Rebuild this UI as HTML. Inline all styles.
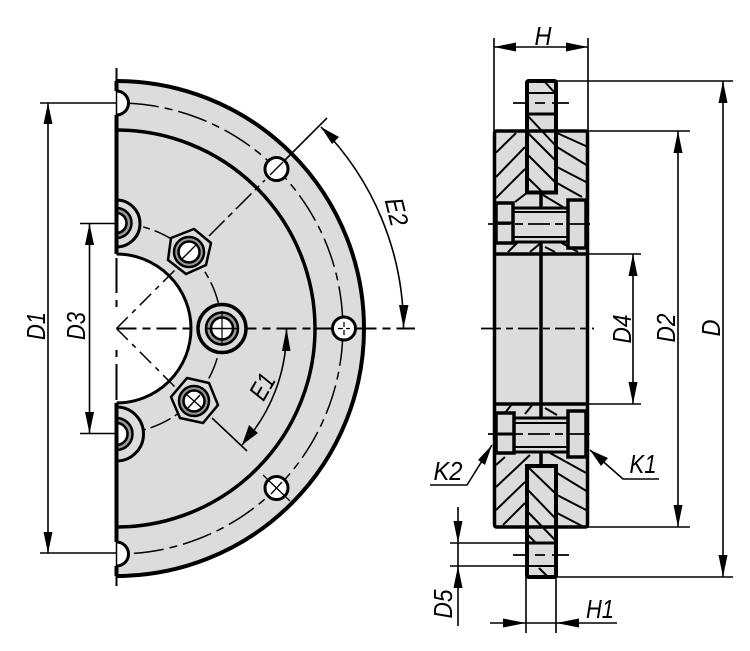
<!DOCTYPE html>
<html><head><meta charset="utf-8">
<style>
html,body{margin:0;padding:0;background:#fff}
svg{display:block}
text{font-family:"Liberation Sans",sans-serif;font-style:italic;font-size:26px;fill:#000}
</style></head><body>
<svg width="750" height="651" viewBox="0 0 750 651" xmlns="http://www.w3.org/2000/svg">

<!-- LEFT VIEW -->
<path d="M116.5 81A247.500 247.500 0 0 1 116.5 576Z" fill="#dcdcdc"/>
<path d="M116.5 81A247.500 247.500 0 0 1 116.5 576" fill="none" stroke="#000" stroke-width="4"/>
<path d="M116.5 130A198.500 198.500 0 0 1 116.5 527" fill="none" stroke="#000" stroke-width="3.500"/>
<path d="M116.5 254A74.500 74.500 0 0 1 116.5 403Z" fill="#fff"/>
<path d="M116.5 254A74.500 74.500 0 0 1 116.5 403" fill="none" stroke="#000" stroke-width="3"/>
<!-- pitch circles -->
<path d="M129 103.300A225.500 225.500 0 0 1 129 553.700" fill="none" stroke="#000" stroke-width="1.500" stroke-dasharray="30 6 8 6"/>
<path d="M116.5 223.500A105 105 0 0 1 116.5 433.500" fill="none" stroke="#000" stroke-width="1.500" stroke-dasharray="22 5 7 5"/>
<!-- notches -->
<path d="M116.5 91A12 12 0 0 1 116.5 115Z" fill="#fff"/>
<path d="M116.5 91A12 12 0 0 1 116.5 115" fill="none" stroke="#000" stroke-width="3"/>
<path d="M116.5 542A12 12 0 0 1 116.5 566Z" fill="#fff"/>
<path d="M116.5 542A12 12 0 0 1 116.5 566" fill="none" stroke="#000" stroke-width="3"/>
<!-- left edge -->
<path d="M116.5 81V91M116.5 115V254M116.5 403V542M116.5 566V576" stroke="#000" stroke-width="4" fill="none"/>
<path d="M116.5 91V115M116.5 542V566" stroke="#000" stroke-width="1.500" fill="none"/>
<!-- centre lines -->
<path d="M116.5 68V81M116.5 258V293M116.5 300V307M116.5 350V357M116.5 364V400M116.5 576V586" stroke="#000" stroke-width="2" fill="none"/>
<path d="M116.5 328.500L190 255M116.5 328.500L190 402" stroke="#000" stroke-width="1.500" stroke-dasharray="16 6 5 6" fill="none"/>
<path d="M116.5 328.500H415" stroke="#000" stroke-width="2" stroke-dasharray="20 6 8 6"/>
<path d="M209 236L265 180" stroke="#000" stroke-width="1.500" stroke-dasharray="22 5 6 5"/>
<path d="M285 160L327 118" stroke="#000" stroke-width="1.600"/>
<path d="M212 418L247 451" stroke="#000" stroke-width="1.600"/>
<!-- top and bottom socket holes -->
<g fill="none" stroke="#000">
<path d="M116.5 200A23 23 0 0 1 116.5 247Z" fill="#dcdcdc" stroke-width="3"/>
<path d="M116.5 208A15 15 0 0 1 116.5 238Z" fill="#999" stroke-width="2.500"/>
<path d="M116.5 213A10 10 0 0 1 116.5 233Z" fill="#fff" stroke-width="2.500"/>
<path d="M116.5 407A27 27 0 0 1 116.5 461Z" fill="#dcdcdc" stroke-width="3"/>
<path d="M116.5 418A16 16 0 0 1 116.5 450Z" fill="#999" stroke-width="2.500"/>
<path d="M116.5 423A11 11 0 0 1 116.5 445Z" fill="#fff" stroke-width="2.500"/>
</g>
<path d="M116.5 199V248M116.5 407V461" stroke="#000" stroke-width="4"/>
<!-- centre bolt -->
<g stroke="#000" fill="none">
<circle cx="222" cy="328.500" r="24" fill="#dcdcdc" stroke-width="3.500"/>
<circle cx="222" cy="328.500" r="16" fill="#999" stroke-width="2.500"/>
<circle cx="222" cy="328.500" r="11" fill="#fff" stroke-width="2.500"/>
<path d="M222 311V346" stroke-width="1.200"/>
<path d="M205 328.500H239" stroke-width="1.600"/>
</g>
<!-- hex bolts -->
<g stroke="#000" fill="none">
<polygon points="194,229 211,243 206,265 186,274 168,260 171,238" fill="#dcdcdc" stroke-width="2.500"/>
<circle cx="189" cy="252" r="15" fill="#999" stroke-width="2.500"/>
<circle cx="189" cy="252" r="10.500" fill="#fff" stroke-width="2.500"/>
<path d="M182 259L196 245" stroke-width="1.400"/>
<polygon points="187,378 209,383 218,405 203,423 180,418 171,397" fill="#dcdcdc" stroke-width="2.500"/>
<circle cx="194" cy="401" r="15" fill="#999" stroke-width="2.500"/>
<circle cx="194" cy="401" r="10.500" fill="#fff" stroke-width="2.500"/>
<path d="M186 394L202 408M188 408L200 395" stroke-width="1.400"/>
</g>
<!-- small holes -->
<g stroke="#000" fill="#fff" stroke-width="3">
<circle cx="276.500" cy="169" r="11.500"/>
<circle cx="344" cy="328.500" r="11.500"/>
<circle cx="276.500" cy="488" r="11.500"/>
</g>
<g stroke="#000" stroke-width="1.300" fill="none">
<path d="M270 175L283 162"/>
<path d="M344 322V335M338 328.500H350" stroke-dasharray="5 3"/>
<path d="M263 475L290 501M271 494L282 482"/>
</g>

<!-- E arcs -->
<path d="M321 127A287 287 0 0 1 403.500 328" fill="none" stroke="#000" stroke-width="1.600"/>
<polygon points="321,127 339,137 332,144"/>
<polygon points="403.500,328 399,305 408.500,305"/>
<path d="M286.500 328A170 170 0 0 1 242 445" fill="none" stroke="#000" stroke-width="1.600"/>
<polygon points="286.500,328 282,351 290.500,351"/>
<polygon points="242,445 249,425 258,433"/>
<text transform="translate(388,214) rotate(76)" text-anchor="middle" textLength="28" lengthAdjust="spacingAndGlyphs">E2</text>
<text transform="translate(270,391) rotate(-60)" text-anchor="middle" textLength="26" lengthAdjust="spacingAndGlyphs">E1</text>

<!-- left dims -->
<path d="M40 103H116M48 103V553M40 553H116" stroke="#000" stroke-width="1.600" fill="none"/>
<polygon points="48,103 43.500,124 52.500,124"/><polygon points="48,553 43.500,532 52.500,532"/>
<path d="M80 223.500H116M89.500 223.500V433.500M80 433.500H116" stroke="#000" stroke-width="1.600" fill="none"/>
<polygon points="89.500,223.500 85,245 94,245"/><polygon points="89.500,433.500 85,412 94,412"/>
<text transform="translate(45,326) rotate(-90)" text-anchor="middle" textLength="28" lengthAdjust="spacingAndGlyphs">D1</text>
<text transform="translate(85,326) rotate(-90)" text-anchor="middle" textLength="28" lengthAdjust="spacingAndGlyphs">D3</text>

<!-- RIGHT VIEW -->
<rect x="494" y="131" width="94" height="396" rx="2" fill="#dcdcdc"/>
<rect x="527" y="81" width="29" height="496" rx="2" fill="#dcdcdc"/>
<!-- hatching -->
<g stroke="#000" stroke-width="2" fill="none">
<path d="M496 152.700L516 133M496 177L525 147M496 198L525 169M515 202L527 192.700"/>
<path d="M557 133L588 147M557 147L588 166M557 167L588 183M557 183L582 197"/>
<path d="M527 115L555 145M528 133L555 160M528 155L555 182M528 178L543 192.700M545 82L554 92"/>
<path d="M508 252L518 242M530 252L542 242M545 247L555 252M560 242L578 252"/>
<path d="M505 413L512 404M525 414L533 404M545 408L557 415"/>
<path d="M496 465L505 457M530 455L496 487M525 482L496 510M525 503L503 525"/>
<path d="M550 453L588 474M557 473L588 492M557 495L588 511M557 513L582 526"/>
<path d="M528 467L555 493M528 490L555 518M528 512L555 540M528 535L536 543M539 568L547 576"/>
<path d="M543 195L563 207"/>
</g>
<!-- shafts -->
<g stroke="#000" fill="none">
<rect x="513" y="208" width="55" height="34" fill="#dcdcdc" stroke-width="3"/>
<rect x="513" y="418" width="55" height="34" fill="#dcdcdc" stroke-width="3"/>
<path d="M513 212H568M513 237H568M513 423H568M513 447H568" stroke-width="2"/>
</g>
<rect x="496" y="203" width="17" height="40" fill="#dcdcdc" stroke="#000" stroke-width="3.500"/>
<rect x="496" y="413" width="18" height="40" fill="#dcdcdc" stroke="#000" stroke-width="3.500"/>
<rect x="568" y="200" width="18" height="48" fill="#dcdcdc" stroke="#000" stroke-width="3.500"/>
<rect x="568" y="411" width="18" height="46" fill="#dcdcdc" stroke="#000" stroke-width="3.500"/>
<path d="M494 223H513M494 434H513" stroke="#000" stroke-width="3"/>
<!-- body -->
<g fill="none" stroke="#000" stroke-width="4">
<rect x="494.500" y="131" width="93" height="396" rx="2" stroke-width="3.500"/>
<path d="M494 254H588M494 404H588" stroke-width="3.500"/>
<path d="M541 193V208M541 242V418M541 452V466" stroke-width="3.500"/>
<path d="M527 192.500V83Q527 81 529 81H554Q556 81 556 83V192.500Z"/>
<path d="M527 466V575Q527 577 529 577H554Q556 577 556 575V466Z"/>
<path d="M527 114H556M527 543H556" stroke-width="3"/>
<path d="M527 93H556M527 566H556" stroke-width="2"/>
</g>
<!-- right centre lines -->
<path d="M513 103H528M535 103H545M552 103H569M513 555H528M535 555H545M552 555H569" stroke="#000" stroke-width="1.800"/>
<path d="M488 224H594M488 434H594" stroke="#000" stroke-width="1.800" stroke-dasharray="22 5 8 5"/>
<path d="M481 328.500H594" stroke="#000" stroke-width="1.800" stroke-dasharray="20 5 7 5"/>

<!-- right dims -->
<g stroke="#000" stroke-width="1.600" fill="none">
<path d="M494 38V131M588 38V131M494 47H588"/>
<path d="M556 81H733M723 81V577M556 577H733"/>
<path d="M588 131H690M678 131V527M588 527H690"/>
<path d="M588 254H641M633 254V404M588 404H641"/>
<path d="M450 543H527M450 566H527M458 507V626"/>
<path d="M526 577V633M556 577V633M490 623H617"/>
<path d="M492 445L467 485H430"/>
<path d="M590 450L623 479H659"/>
</g>
<polygon points="494,47 516,42.500 516,51.500"/><polygon points="588,47 566,42.500 566,51.500"/>
<polygon points="723,81 718.500,103 727.500,103"/><polygon points="723,577 718.500,555 727.500,555"/>
<polygon points="678,131 673.500,153 682.500,153"/><polygon points="678,527 673.500,505 682.500,505"/>
<polygon points="633,254 628.500,276 637.500,276"/><polygon points="633,404 628.500,382 637.500,382"/>
<polygon points="458,543 453.500,521 462.500,521"/><polygon points="458,566 453.500,588 462.500,588"/>
<polygon points="526,623 503,618.500 503,627.500"/><polygon points="556,623 579,618.500 579,627.500"/>
<polygon points="492,445 485,465 478,460"/>
<polygon points="590,450 608,458 601,466"/>
<text x="543" y="45" text-anchor="middle" textLength="17" lengthAdjust="spacingAndGlyphs">H</text>
<text x="600" y="618" text-anchor="middle" textLength="28" lengthAdjust="spacingAndGlyphs">H1</text>
<text x="643" y="473" text-anchor="middle" textLength="27" lengthAdjust="spacingAndGlyphs">K1</text>
<text x="448" y="480" text-anchor="middle" textLength="29" lengthAdjust="spacingAndGlyphs">K2</text>
<text transform="translate(720,328) rotate(-90)" text-anchor="middle" textLength="17" lengthAdjust="spacingAndGlyphs">D</text>
<text transform="translate(675,328) rotate(-90)" text-anchor="middle" textLength="29" lengthAdjust="spacingAndGlyphs">D2</text>
<text transform="translate(631,329) rotate(-90)" text-anchor="middle" textLength="29" lengthAdjust="spacingAndGlyphs">D4</text>
<text transform="translate(452,604) rotate(-90)" text-anchor="middle" textLength="29" lengthAdjust="spacingAndGlyphs">D5</text>
</svg>
</body></html>
